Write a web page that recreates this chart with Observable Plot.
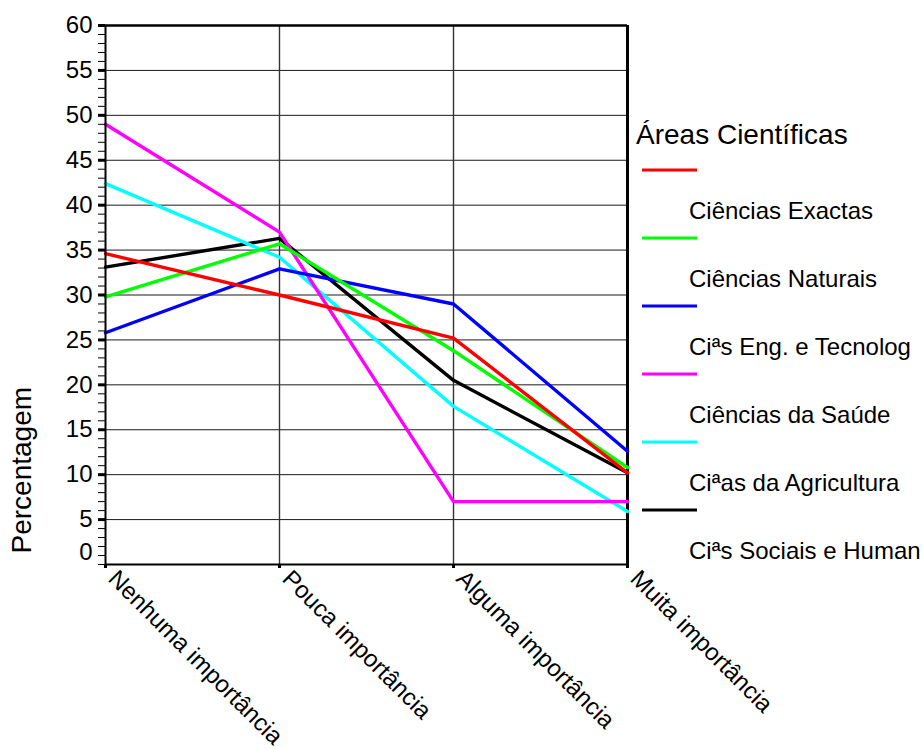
<!DOCTYPE html>
<html>
<head>
<meta charset="utf-8">
<script src="https://cdn.jsdelivr.net/npm/d3@7"></script>
<script src="https://cdn.jsdelivr.net/npm/@observablehq/plot@0.6"></script>
<style>
  html, body { margin: 0; padding: 0; background: #fff; }
  #wrap { position: relative; width: 923px; height: 749px; font-family: "Liberation Sans", Arial, sans-serif; }
  #legend { position: absolute; left: 0; top: 0; pointer-events: none; }
</style>
</head>
<body>
<div id="wrap"></div>
<script>
// Importance categories (x axis)
const categories = ["Nenhuma importância", "Pouca importância", "Alguma importância", "Muita importância"];

// Scientific areas, their colours and percentages per category
const areas = ["Ciências Exactas", "Ciências Naturais", "Ciªs Eng. e Tecnolog", "Ciências da Saúde", "Ciªas da Agricultura", "Ciªs Sociais e Human"];
const areaColors = ["#ff0000", "#00ff00", "#0000ff", "#ff00ff", "#00ffff", "#000000"];

const exactas     = [34.6, 30.0, 25.2, 10.2];
const naturais    = [29.8, 35.7, 23.8, 10.8];
const engTecnolog = [25.8, 32.9, 29.0, 12.6];
const saude       = [49.0, 37.0, 7.0, 7.0];
const agricultura = [42.4, 34.2, 17.6, 5.9];
const sociais     = [33.1, 36.3, 20.5, 10.2];

const yTicks = [0, 5, 10, 15, 20, 25, 30, 35, 40, 45, 50, 55, 60];

const seriesValues = [exactas, naturais, engTecnolog, saude, agricultura, sociais];
const rows = [];
// later areas are drawn first so the first areas sit on top
for (let s = areas.length - 1; s >= 0; s--) {
  categories.forEach((c, i) => rows.push({categoria: c, valor: seriesValues[s][i], area: areas[s]}));
}

const font = "Liberation Sans, Arial, sans-serif";

const chart = Plot.plot({
  width: 923,
  height: 749,
  marginLeft: 105,
  marginRight: 296,
  marginTop: 25,
  marginBottom: 185,
  style: {fontFamily: font, fontSize: "22px", color: "#000", background: "#fff"},
  x: {type: "point", domain: categories, padding: 0},
  y: {domain: [0, 60]},
  color: {domain: areas, range: areaColors},
  marks: [
    Plot.gridY(yTicks.slice(1, -1), {stroke: "#000", strokeOpacity: 0.9, strokeWidth: 1}),
    Plot.gridX(categories.slice(1, -1), {stroke: "#333", strokeOpacity: 1, strokeWidth: 1.4}),
    Plot.ruleY([60], {stroke: "#000", strokeWidth: 2.5}),
    Plot.ruleX([categories[categories.length - 1]], {stroke: "#000", strokeWidth: 3}),
    Plot.line(rows, {x: "categoria", y: "valor", z: "area", stroke: "area", strokeWidth: 3.4, strokeLinejoin: "miter"}),
    // minor ticks every unit
    Plot.axisY(d3.range(0, 61, 1), {tickSize: 7, tickFormat: () => "", label: null, strokeWidth: 1}),
    // major ticks and labels every 5 (the zero label sits slightly higher)
    Plot.axisY(yTicks.slice(1), {tickSize: 7, tickPadding: 6, strokeWidth: 3, label: null, fontSize: 24}),
    Plot.tickY([0], {y: d => d, x: null, frameAnchor: "left", stroke: "#000"}),
    Plot.text([0], {y: d => d, frameAnchor: "left", dx: -13, dy: -12, textAnchor: "end", text: d => String(d), fontSize: 24, fill: "#000"}),
    Plot.ruleX([categories[0]], {stroke: "#000", strokeWidth: 2}),
    Plot.ruleY([0], {stroke: "#000", strokeWidth: 2}),
    // category ticks, then the rotated category labels
    Plot.axisX({tickSize: 4, strokeWidth: 3, tickFormat: () => "", label: null}),
    Plot.axisX({tickRotate: 45, tickSize: 0, tickPadding: 10, dx: 7, label: null, fontSize: 24}),
    Plot.text(["Percentagem"], {frameAnchor: "bottom-left", rotate: -90, textAnchor: "start", lineAnchor: "middle", dx: -83, dy: -11, fontSize: 28, fill: "#000"})
  ]
});

const wrap = document.getElementById("wrap");
wrap.appendChild(chart);

// Legend to the right of the plot: title, then a line swatch above each label
const ns = "http://www.w3.org/2000/svg";
const leg = document.createElementNS(ns, "svg");
leg.setAttribute("id", "legend");
leg.setAttribute("width", 923);
leg.setAttribute("height", 749);
leg.setAttribute("font-family", font);

const title = document.createElementNS(ns, "text");
title.setAttribute("x", 636);
title.setAttribute("y", 144);
title.setAttribute("font-size", 28);
title.textContent = "Áreas Científicas";
leg.appendChild(title);

areas.forEach((name, i) => {
  const sw = document.createElementNS(ns, "line");
  sw.setAttribute("x1", 642);
  sw.setAttribute("x2", 697);
  sw.setAttribute("y1", 170 + 68 * i);
  sw.setAttribute("y2", 170 + 68 * i);
  sw.setAttribute("stroke", areaColors[i]);
  sw.setAttribute("stroke-width", 3);
  leg.appendChild(sw);
  const t = document.createElementNS(ns, "text");
  t.setAttribute("x", 689);
  t.setAttribute("y", 219 + 68 * i);
  t.setAttribute("font-size", 24);
  t.textContent = name;
  leg.appendChild(t);
});
wrap.appendChild(leg);
</script>
</body>
</html>
